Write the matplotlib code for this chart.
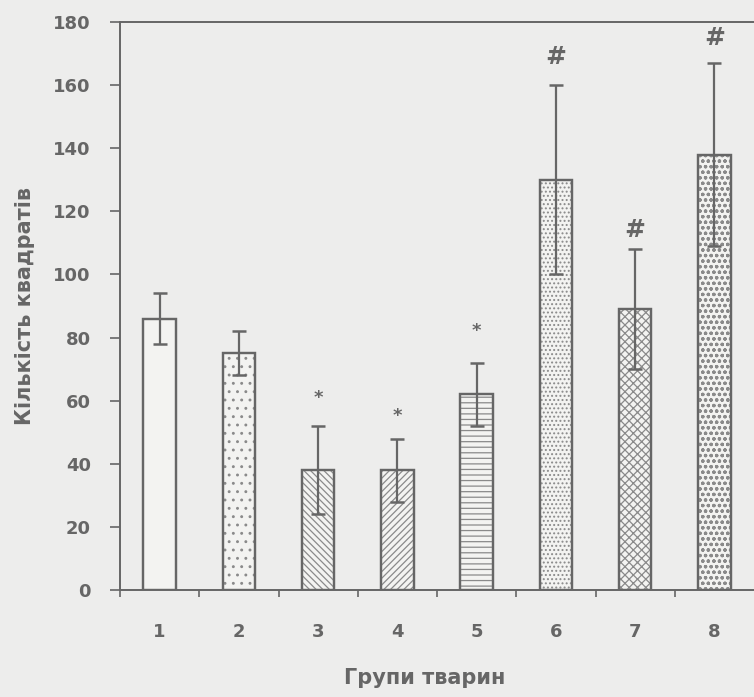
import matplotlib
matplotlib.use("Agg")
import matplotlib.pyplot as plt

groups = ["1", "2", "3", "4", "5", "6", "7", "8"]
values = [86, 75, 38, 38, 62, 130, 89, 138]
errors = [8, 7, 14, 10, 10, 30, 19, 29]
marks = ["", "", "*", "*", "*", "#", "#", "#"]
mark_y = [None, None, 61, 55, 82, 169, 114, 175]
hatches = ["", "..", "\\\\\\\\\\", "/////", "---", "....", "xxxx", "ooo"]
yticks = [0, 20, 40, 60, 80, 100, 120, 140, 160, 180]

plt.rcParams['font.family'] = ['DejaVu Sans']
plt.rcParams['hatch.color'] = '#7a7a7a'
plt.rcParams['hatch.linewidth'] = 0.9

gray = '#666666'
bg = '#ededec'

fig = plt.figure(figsize=(7.54, 6.97), dpi=100, facecolor=bg)
ax = fig.add_axes([120/754, 1 - 590/697, (754 - 120)/754, (590 - 22)/697])
ax.set_facecolor(bg)

x = list(range(1, len(groups) + 1))
ax.bar(x, values, width=0.41, color='#f3f3f1', edgecolor=gray, linewidth=1.6, zorder=2)
for xi, v, h in zip(x, values, hatches):
    ax.bar(xi, v, width=0.41, color='none', edgecolor='#8a8a8a', linewidth=0,
           hatch=h, zorder=3)
ax.bar(x, values, width=0.41, color='none', edgecolor=gray, linewidth=1.6, zorder=4)
ax.errorbar(x, values, yerr=errors, fmt='none', ecolor=gray, elinewidth=1.6,
            capsize=5, capthick=1.8, zorder=5)

for xi, m, my in zip(x, marks, mark_y):
    if m:
        ax.text(xi, my, m, ha='center', va='center', color=gray,
                fontsize=13 if m == '*' else 18, fontweight='bold')

ax.set_xlim(0.5, 8.5)
ax.set_ylim(0, 180)
ax.set_yticks(yticks)
ax.set_yticklabels([str(t) for t in yticks], fontsize=13, fontweight='bold', color=gray)
ax.set_xticks([i + 0.5 for i in range(0, 8)])
ax.set_xticklabels([])
ax.set_xticks(x, minor=True)
ax.set_xticklabels(groups, minor=True, fontsize=13, fontweight='bold', color=gray)
ax.tick_params(axis='x', which='minor', length=0, pad=24)
ax.tick_params(axis='x', which='major', length=5, width=1.2, color=gray, direction='out')
ax.tick_params(axis='y', length=7, width=1.2, color=gray, direction='out', pad=14)

for s in ['left', 'bottom', 'top']:
    ax.spines[s].set_color(gray)
    ax.spines[s].set_linewidth(1.4)
ax.spines['right'].set_visible(False)

fig.text(425/754, 1 - 678/697, "Групи тварин", ha='center', va='center',
         fontsize=15, fontweight='bold', color=gray)
fig.text(25/754, 1 - 306/697, "Кількість квадратів", ha='center', va='center',
         rotation=90, fontsize=15, fontweight='bold', color=gray)

fig.savefig("out.png", dpi=100, facecolor=bg)
